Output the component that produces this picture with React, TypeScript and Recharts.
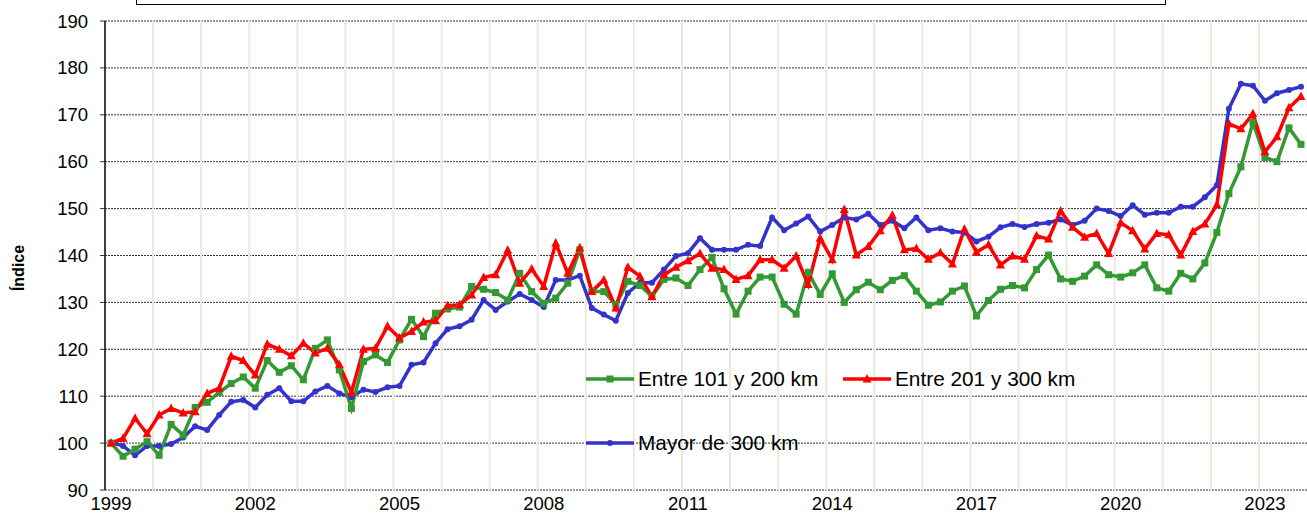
import React from 'react';
import { LineChart, Line, XAxis, YAxis, CartesianGrid, ReferenceLine, Legend } from 'recharts';

// ---------- data ----------
const years = [1999, 2000, 2001, 2002, 2003, 2004, 2005, 2006, 2007, 2008, 2009, 2010, 2011,
  2012, 2013, 2014, 2015, 2016, 2017, 2018, 2019, 2020, 2021, 2022, 2023];
const quarterNames = ['T1', 'T2', 'T3', 'T4'];
const periods = years.flatMap((y) => quarterNames.map((q) => `${y} ${q}`));

const tickLabels = ['1999', '2002', '2005', '2008', '2011', '2014', '2017', '2020', '2023'];
const yTicks = [90, 100, 110, 120, 130, 140, 150, 160, 170, 180, 190];

const entre101y200 = [
  100, 97.2, 98.7, 100.3, 97.4, 104, 101.7, 107.6, 108.7, 110.8,
  112.7, 114.1, 111.7, 117.6, 115.1, 116.5, 113.5, 120.2, 122, 115.6,
  107.4, 117.4, 118.8, 117.2, 122, 126.4, 122.7, 127.7, 128.6, 129,
  133.4, 132.8, 132.1, 130.5, 136.2, 132.3, 129.8, 130.9, 134.1, 141.2,
  132.3, 132.3, 129.5, 134.5, 133.6, 131.3, 134.9, 135.2, 133.6, 137,
  139.6, 132.9, 127.5, 132.4, 135.4, 135.4, 129.6, 127.5, 136.4, 131.7,
  136.1, 130, 132.7, 134.3, 132.7, 134.7, 135.7, 132.4, 129.4, 130.1,
  132.4, 133.5, 127.1, 130.4, 132.8, 133.6, 133.1, 137, 140.1, 135,
  134.5, 135.6, 138, 135.9, 135.4, 136.3, 138, 133.1, 132.4, 136.2,
  135, 138.4, 144.9, 153.2, 158.9, 168.4, 160.9, 160, 167.2, 163.7,
];

const entre201y300 = [
  100, 101, 105.3, 102, 106, 107.4, 106.4, 106.7, 110.6, 111.7,
  118.5, 117.6, 114.5, 121.1, 120, 118.6, 121.3, 119.2, 120.2, 116.7,
  110.8, 120, 120.2, 124.9, 122.4, 123.8, 125.8, 126.1, 129.3, 129.5,
  131.6, 135.3, 135.9, 141.1, 134.1, 137.1, 133.4, 142.6, 136.2, 141.6,
  132.3, 134.8, 128.8, 137.5, 135.6, 131.2, 135.9, 137.5, 138.9, 140.4,
  137.3, 137, 134.9, 135.7, 139.1, 139.1, 137.3, 139.9, 133.8, 143.7,
  139.1, 149.8, 140.1, 141.9, 145.3, 148.6, 141.2, 141.5, 139.2, 140.6,
  138.2, 145.6, 140.7, 142.3, 138, 139.9, 139.2, 144.2, 143.5, 149.5,
  146, 143.9, 144.7, 140.4, 147, 145.3, 141.4, 144.7, 144.4, 140.1,
  145.1, 146.7, 150.8, 168.1, 167, 170.2, 162.1, 165.3, 171.5, 173.9,
];

const mayor300 = [
  100.1, 99.4, 97.4, 99.4, 99.4, 99.8, 101.2, 103.6, 102.8, 106,
  108.8, 109.2, 107.6, 110.3, 111.7, 108.9, 108.9, 111, 112.2, 110.6,
  109.8, 111.4, 110.9, 111.9, 112.2, 116.7, 117.2, 121.3, 124.3, 124.9,
  126.3, 130.5, 128.4, 130.2, 131.8, 130.5, 129, 134.8, 134.8, 135.7,
  128.8, 127.4, 126.1, 132, 134.2, 134.2, 137, 139.9, 140.5, 143.7,
  141.2, 141.2, 141.2, 142.3, 142, 148.1, 145.4, 146.8, 148.3, 145.1,
  146.5, 148.1, 147.7, 148.9, 146.5, 147.4, 145.8, 148.1, 145.4, 145.8,
  145.1, 144.9, 143, 144, 146, 146.7, 146.1, 146.7, 147, 147.7,
  146.5, 147.4, 150, 149.5, 148.4, 150.7, 148.7, 149.1, 149.1, 150.4,
  150.4, 152.4, 155, 171.3, 176.6, 176.2, 173, 174.6, 175.3, 176,
];

const rows = periods.map((p, i) => ({
  i,
  periodo: p,
  g: entre101y200[i],
  r: entre201y300[i],
  b: mayor300[i],
}));

// ---------- styling ----------
const W = 1307;
const H = 516;
const FONT = '"Liberation Sans", Arial, Helvetica, sans-serif';
const GREEN = '#339933';
const RED = '#FF0000';
const BLUE = '#3333CC';

const tickIdx = tickLabels.map((_, k) => k * 12);
const yearBounds = years.slice(1).map((_, k) => (k + 1) * 4 - 0.5);

const SquareDot = (p: any) =>
  p.cx == null ? null : (
    <rect key={`g${p.index}`} x={p.cx - 3.5} y={p.cy - 3.5} width={7} height={7} fill={GREEN} />
  );
const TriDot = (p: any) =>
  p.cx == null ? null : (
    <polygon
      key={`r${p.index}`}
      points={`${p.cx},${p.cy - 5} ${p.cx - 4.5},${p.cy + 3.5} ${p.cx + 4.5},${p.cy + 3.5}`}
      fill={RED}
    />
  );
const CircleDot = (p: any) =>
  p.cx == null ? null : <circle key={`b${p.index}`} cx={p.cx} cy={p.cy} r={3} fill={BLUE} />;

const legendItems = [
  { name: 'Entre 101 y 200 km', color: GREEN, shape: 'square', x: 586, y: 379 },
  { name: 'Entre 201 y 300 km', color: RED, shape: 'tri', x: 843, y: 379 },
  { name: 'Mayor de 300 km', color: BLUE, shape: 'circle', x: 586, y: 443 },
];

const renderLegend = () => (
  <svg width={W} height={H} style={{ position: 'absolute', left: 0, top: 0 }}>
    {legendItems.map((it) => {
      const cx = it.x + 24;
      const cy = it.y;
      return (
        <g key={it.name}>
          <line x1={it.x} y1={cy} x2={it.x + 48} y2={cy} stroke={it.color} strokeWidth={3.5} />
          {it.shape === 'square' && <rect x={cx - 3.5} y={cy - 3.5} width={7} height={7} fill={it.color} />}
          {it.shape === 'tri' && (
            <polygon points={`${cx},${cy - 5} ${cx - 4.5},${cy + 3.5} ${cx + 4.5},${cy + 3.5}`} fill={it.color} />
          )}
          {it.shape === 'circle' && <circle cx={cx} cy={cy} r={3} fill={it.color} />}
          <text
            x={it.x + 52}
            y={cy}
            dy="0.36em"
            fontFamily={FONT}
            fontSize={20.8}
            fill="#000"
          >
            {it.name}
          </text>
        </g>
      );
    })}
  </svg>
);

export default function App() {
  return (
    <div style={{ position: 'absolute', left: 0, top: 0, width: W, height: H, background: '#fff', overflow: 'hidden' }}>
      <LineChart width={W} height={H} data={rows} margin={{ top: 21, right: 0, bottom: 0, left: 0 }}>
        {yearBounds.map((x) => (
          <ReferenceLine key={x} x={x} stroke="#ECE9DD" strokeWidth={2} />
        ))}
        <CartesianGrid vertical={false} stroke="#333" strokeDasharray="2 1" />
        <XAxis
          type="number"
          dataKey="i"
          domain={[-0.5, 99.5]}
          ticks={tickIdx}
          tickFormatter={(v: number) => tickLabels[Math.round(v / 12)]}
          axisLine={false}
          tickLine={false}
          tickSize={0}
          tickMargin={7}
          height={26}
          interval={0}
          tick={{ fill: '#000', fontSize: 18.5, fontFamily: FONT }}
        />
        <YAxis
          domain={[90, 190]}
          ticks={yTicks}
          width={105}
          interval={0}
          axisLine={{ stroke: '#000', strokeWidth: 1.5 }}
          tickLine={{ stroke: '#333' }}
          tickSize={5}
          tickMargin={12}
          tick={{ fill: '#000', fontSize: 18.5, fontFamily: FONT }}
          label={{
            content: () => (
              <text
                x={18}
                y={268}
                transform="rotate(-90 18 268)"
                textAnchor="middle"
                dy="0.36em"
                fontFamily={FONT}
                fontWeight="bold"
                fontSize={16}
                fill="#000"
              >
                Índice
              </text>
            ),
          }}
        />
        <Line
          type="linear"
          dataKey="b"
          name="Mayor de 300 km"
          stroke={BLUE}
          strokeWidth={3.5}
          dot={CircleDot}
          isAnimationActive={false}
        />
        <Line
          type="linear"
          dataKey="g"
          name="Entre 101 y 200 km"
          stroke={GREEN}
          strokeWidth={3.5}
          dot={SquareDot}
          isAnimationActive={false}
        />
        <Line
          type="linear"
          dataKey="r"
          name="Entre 201 y 300 km"
          stroke={RED}
          strokeWidth={3.5}
          dot={TriDot}
          isAnimationActive={false}
        />
        <Legend
          layout="horizontal"
          verticalAlign="middle"
          align="center"
          content={renderLegend}
          wrapperStyle={{ left: 0, top: 0, width: W, height: H, pointerEvents: 'none' }}
        />
      </LineChart>
      <div
        style={{
          position: 'absolute',
          left: 136,
          top: -20,
          width: 1030,
          height: 25,
          boxSizing: 'border-box',
          border: '1.5px solid #000',
          background: '#fff',
        }}
      />
    </div>
  );
}
